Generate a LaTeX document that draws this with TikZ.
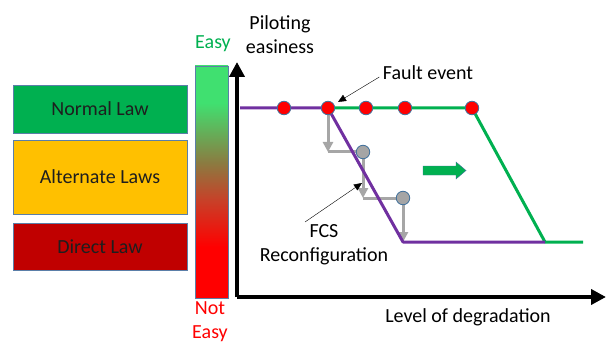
\documentclass[tikz,border=0pt]{standalone}
\usepackage{fontspec}
\setmainfont{Carlito}
\usetikzlibrary{arrows.meta}
\definecolor{lawgreen}{HTML}{00B050}
\definecolor{lawyellow}{HTML}{FFC000}
\definecolor{lawred}{HTML}{C00000}
\definecolor{edgeblue}{HTML}{5B7FA8}
\definecolor{dotedge}{HTML}{41719C}
\definecolor{lawpurple}{HTML}{7030A0}
\definecolor{stepgray}{HTML}{A6A6A6}
\definecolor{dotgray}{HTML}{A5A5A5}
\definecolor{textgray}{HTML}{1E1E1E}
\definecolor{easygreen}{HTML}{40E070}
\definecolor{midbrown}{HTML}{8C7A40}
\definecolor{midred}{HTML}{C84028}
\pgfdeclareverticalshading{easyshade}{100bp}{color(0bp)=(red); color(25bp)=(red); color(36bp)=(red); color(46bp)=(midred); color(54bp)=(midbrown); color(67bp)=(easygreen); color(75bp)=(easygreen); color(100bp)=(easygreen)}
\begin{document}
\begin{tikzpicture}[x=1pt,y=-1pt,font=\fontsize{20}{24}\selectfont,
	lawbox/.style={draw=edgeblue,semithick,minimum width=174pt,text=textgray,inner sep=0pt},
	reddot/.style={circle,fill=red,draw=dotedge,thick,inner sep=0pt,minimum size=13.5pt},
	graydot/.style={circle,fill=dotgray,draw=dotedge,thick,inner sep=0pt,minimum size=13.5pt},
	axis/.style={line width=4pt,-{Triangle[length=15pt,width=15pt]}},
	lawline/.style={line width=3pt,line join=round},
	stepline/.style={stepgray,line width=3pt},
	pointer/.style={thin,-{Triangle[length=8pt,width=7pt]}}]
	\useasboundingbox (0,0) rectangle (606,345);
	% flight control laws
	\node[lawbox,fill=lawgreen,minimum height=48pt] (normal) at (100,109) {Normal Law};
	\node[lawbox,fill=lawyellow,minimum height=74pt] (alternate) at (100,177) {Alternate Laws};
	\node[lawbox,fill=lawred,minimum height=47pt] (direct) at (100,246.5) {Direct Law};
	% easiness scale
	\shade[shading=easyshade] (195,66) rectangle (228,298);
	\draw[edgeblue,semithick] (195,66) rectangle (228,298);
	\node[text=lawgreen] (easy) at (213,44) {Easy};
	\node[text=red,align=center] (noteasy) at (210,322) {Not\\Easy};
	% axes
	\coordinate (origin) at (237,297);
	\coordinate (ytip) at (237,62);
	\coordinate (xtip) at (606,297);
	\draw[axis] (origin) -- (ytip);
	\draw[axis] (origin) -- (xtip);
	\node[align=center] (ylabel) at (280,35) {Piloting\\easiness};
	\node (xlabel) at (468,317) {Level of degradation};
	% reconfiguration steps
	\coordinate (s1) at (328,152);
	\coordinate (s2) at (363,198);
	\coordinate (s3) at (403,242);
	\draw[stepline,-{Triangle[length=10pt,width=10pt]}] (328,108) -- (s1);
	\draw[stepline] (s1) -- (363,152);
	\draw[stepline,-{Triangle[length=10pt,width=10pt]}] (363,152) -- (s2);
	\draw[stepline] (s2) -- (403,198);
	\draw[stepline,-{Triangle[length=10pt,width=10pt]}] (403,198) -- (s3);
	% degradation curves
	\coordinate (p0) at (240,108);
	\coordinate (pf) at (328,108);
	\coordinate (pb) at (403,242);
	\coordinate (pe) at (545,242);
	\coordinate (gk) at (472,108);
	\coordinate (ge) at (583,242);
	\draw[lawline,lawgreen] (pf) -- (gk) -- (pe) -- (ge);
	\draw[lawline,lawpurple] (p0) -- (pf) -- (pb) -- (pe);
	% events
	\node[reddot] (e1) at (284,108) {};
	\node[reddot] (fault) at (pf) {};
	\node[reddot] (e3) at (366,108) {};
	\node[reddot] (e4) at (405,108) {};
	\node[reddot] (e5) at (gk) {};
	\node[graydot] (g1) at (363,152) {};
	\node[graydot] (g2) at (403,198) {};
	% shift of the green curve
	\draw[fill=lawgreen,draw=dotedge,thin] (423,166) -- (456,166) -- (456,162) -- (466,170.5) -- (456,179) -- (456,175) -- (423,175) -- cycle;
	% labels
	\node (faultlbl) at (428,73) {Fault event};
	\coordinate (faulttip) at (338,102);
	\draw[pointer] ([yshift=-4pt]faultlbl.west) -- (faulttip);
	\node[align=center] (fcslbl) at (324,245) {FCS\\Reconfiguration};
	\coordinate (fcstip) at (362,183);
	\draw[pointer] (305,222) -- (fcstip);
\end{tikzpicture}
\end{document}
